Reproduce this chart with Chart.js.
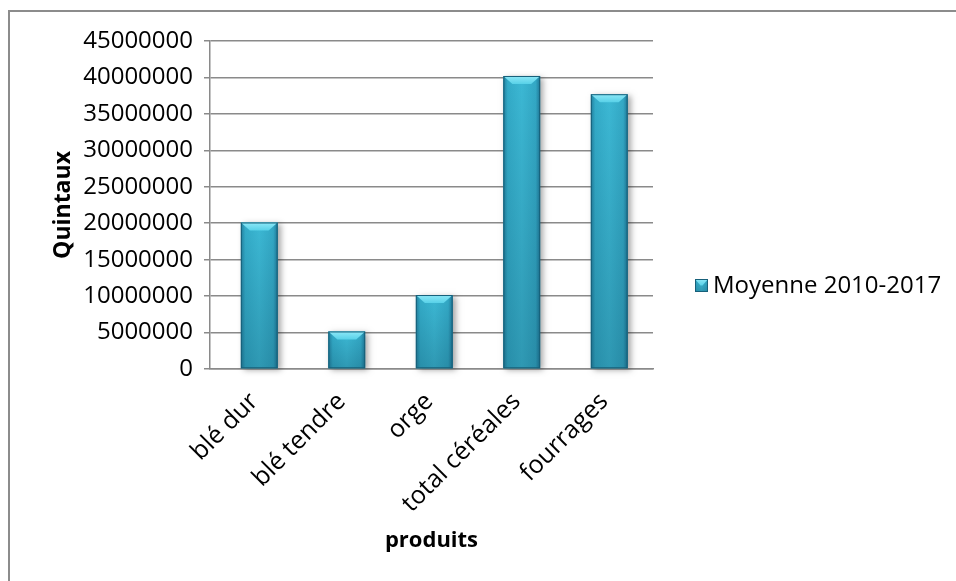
<!DOCTYPE html>
<html>
<head>
<meta charset="utf-8">
<script src="https://cdn.jsdelivr.net/npm/chart.js@4/dist/chart.umd.min.js"></script>
<style>
  html, body { margin: 0; padding: 0; background: #ffffff; }
  #wrap { width: 956px; height: 581px; }
</style>
</head>
<body>
<div id="wrap"><canvas id="c" width="956" height="581"></canvas></div>
<script>
// Production moyenne par produit (quintaux)
const categories = ['blé dur', 'blé tendre', 'orge', 'total céréales', 'fourrages'];
const seriesLabel = 'Moyenne 2010-2017';
const moyenne = [20100000, 5150000, 10150000, 40200000, 37700000];
const yTicks = [0, 5000000, 10000000, 15000000, 20000000, 25000000, 30000000, 35000000, 40000000, 45000000];

const FONT = "'Open Sans', 'Liberation Sans', sans-serif";
const GRID = '#8a8a8a';

// Frame around the chart (only top and left edges fall inside the canvas)
const framePlugin = {
  id: 'frame',
  beforeDraw(chart) {
    const ctx = chart.ctx;
    ctx.save();
    ctx.fillStyle = '#ffffff';
    ctx.fillRect(0, 0, chart.width, chart.height);
    ctx.strokeStyle = '#8c8c8c';
    ctx.lineWidth = 2;
    ctx.strokeRect(9, 11, 2000, 2000);
    ctx.restore();
  }
};

// Bevel look on each bar, using the geometry Chart.js computed
function bevelBar(ctx, left, right, top, bottom, small) {
  const w = right - left;
  const h = bottom - top;
  const g = ctx.createLinearGradient(left, 0, right, 0);
  g.addColorStop(0, '#22809e');
  g.addColorStop(0.12, '#33abc8');
  g.addColorStop(0.5, '#3cb8d4');
  g.addColorStop(0.88, '#33a8c5');
  g.addColorStop(1, '#1f7898');
  ctx.fillStyle = g;
  ctx.fillRect(left, top, w, h);
  const gv = ctx.createLinearGradient(0, top, 0, bottom);
  gv.addColorStop(0, 'rgba(0,40,60,0)');
  gv.addColorStop(1, 'rgba(0,40,60,0.22)');
  ctx.fillStyle = gv;
  ctx.fillRect(left, top, w, h);
  const bev = small ? h / 2 : Math.min(8, h / 2);
  const inset = small ? w / 2 - 1 : Math.min(9, w / 3);
  const gt = ctx.createLinearGradient(0, top, 0, top + bev);
  gt.addColorStop(0, '#8ee8f7');
  gt.addColorStop(1, '#58d1e8');
  ctx.fillStyle = gt;
  ctx.beginPath();
  ctx.moveTo(left, top);
  ctx.lineTo(right, top);
  ctx.lineTo(right - inset, top + bev);
  ctx.lineTo(left + inset, top + bev);
  ctx.closePath();
  ctx.fill();
  ctx.strokeStyle = '#17607a';
  ctx.lineWidth = 1;
  ctx.strokeRect(left + 0.5, top + 0.5, w - 1, h - 1);
}

const barLookPlugin = {
  id: 'barLook',
  afterDatasetsDraw(chart) {
    const ctx = chart.ctx;
    const meta = chart.getDatasetMeta(0);
    ctx.save();
    meta.data.forEach(bar => {
      const { x, y, base, width } = bar.getProps(['x', 'y', 'base', 'width'], true);
      const left = x - width / 2, right = x + width / 2;
      ctx.save();
      ctx.shadowColor = 'rgba(0,0,0,0.35)';
      ctx.shadowBlur = 6;
      ctx.shadowOffsetX = 3;
      ctx.shadowOffsetY = 2;
      ctx.fillStyle = '#2a8fab';
      ctx.fillRect(left, y, width, base - y);
      ctx.restore();
      bevelBar(ctx, left, right, y, base, false);
    });
    ctx.restore();
  }
};

// Legend drawn beside the plot
const legendPlugin = {
  id: 'sideLegend',
  afterDraw(chart) {
    const ctx = chart.ctx;
    const label = chart.data.datasets[0].label;
    const bx = 695, by = 279, s = 13;
    ctx.save();
    bevelBar(ctx, bx, bx + s, by, by + s, true);
    ctx.fillStyle = '#000000';
    ctx.font = `24px ${FONT}`;
    ctx.textBaseline = 'middle';
    ctx.textAlign = 'left';
    ctx.fillText(label, bx + s + 5, by + s / 2 + 1);
    ctx.restore();
  }
};

new Chart(document.getElementById('c'), {
  type: 'bar',
  data: {
    datasets: [{
      label: seriesLabel,
      data: categories.map((c, i) => ({ x: i, y: moyenne[i] })),
      backgroundColor: 'rgba(0,0,0,0)',
      borderWidth: 0,
      categoryPercentage: 1,
      barPercentage: 0.42
    }]
  },
  options: {
    responsive: false,
    devicePixelRatio: 1,
    animation: false,
    layout: { padding: { left: 0, top: 41, right: 303, bottom: 0 } },
    plugins: {
      legend: { display: false },
      tooltip: { enabled: false }
    },
    scales: {
      y: {
        min: 0,
        max: 45000000,
        afterBuildTicks(scale) { scale.ticks = yTicks.map(v => ({ value: v })); },
        afterFit(scale) { scale.width = 210; },
        ticks: {
          color: '#000000',
          font: { family: FONT, size: 24 },
          padding: 11,
          callback: v => String(v)
        },
        grid: {
          color: GRID,
          lineWidth: 1.5,
          tickLength: 6,
          drawTicks: true
        },
        border: { color: GRID, width: 1.5 },
        title: {
          display: true,
          text: 'Quintaux',
          color: '#000000',
          font: { family: FONT, size: 23, weight: 'bold' },
          padding: { top: 50, bottom: 0 }
        }
      },
      x: {
        type: 'linear',
        offset: false,
        min: -0.563,
        max: 4.5,
        afterBuildTicks(scale) { scale.ticks = categories.map((c, i) => ({ value: i })); },
        afterFit(scale) { scale.height = 581 - 369; },
        ticks: {
          color: '#000000',
          font: { family: FONT, size: 25 },
          minRotation: 45,
          maxRotation: 45,
          padding: 10,
          labelOffset: -5,
          callback: v => categories[v]
        },
        grid: { display: false },
        border: { color: GRID, width: 1.5 },
        title: {
          display: true,
          text: 'produits',
          color: '#000000',
          font: { family: FONT, size: 22, weight: 'bold' },
          padding: { top: 0, bottom: 27 }
        }
      }
    }
  },
  plugins: [framePlugin, barLookPlugin, legendPlugin]
});
</script>
</body>
</html>
